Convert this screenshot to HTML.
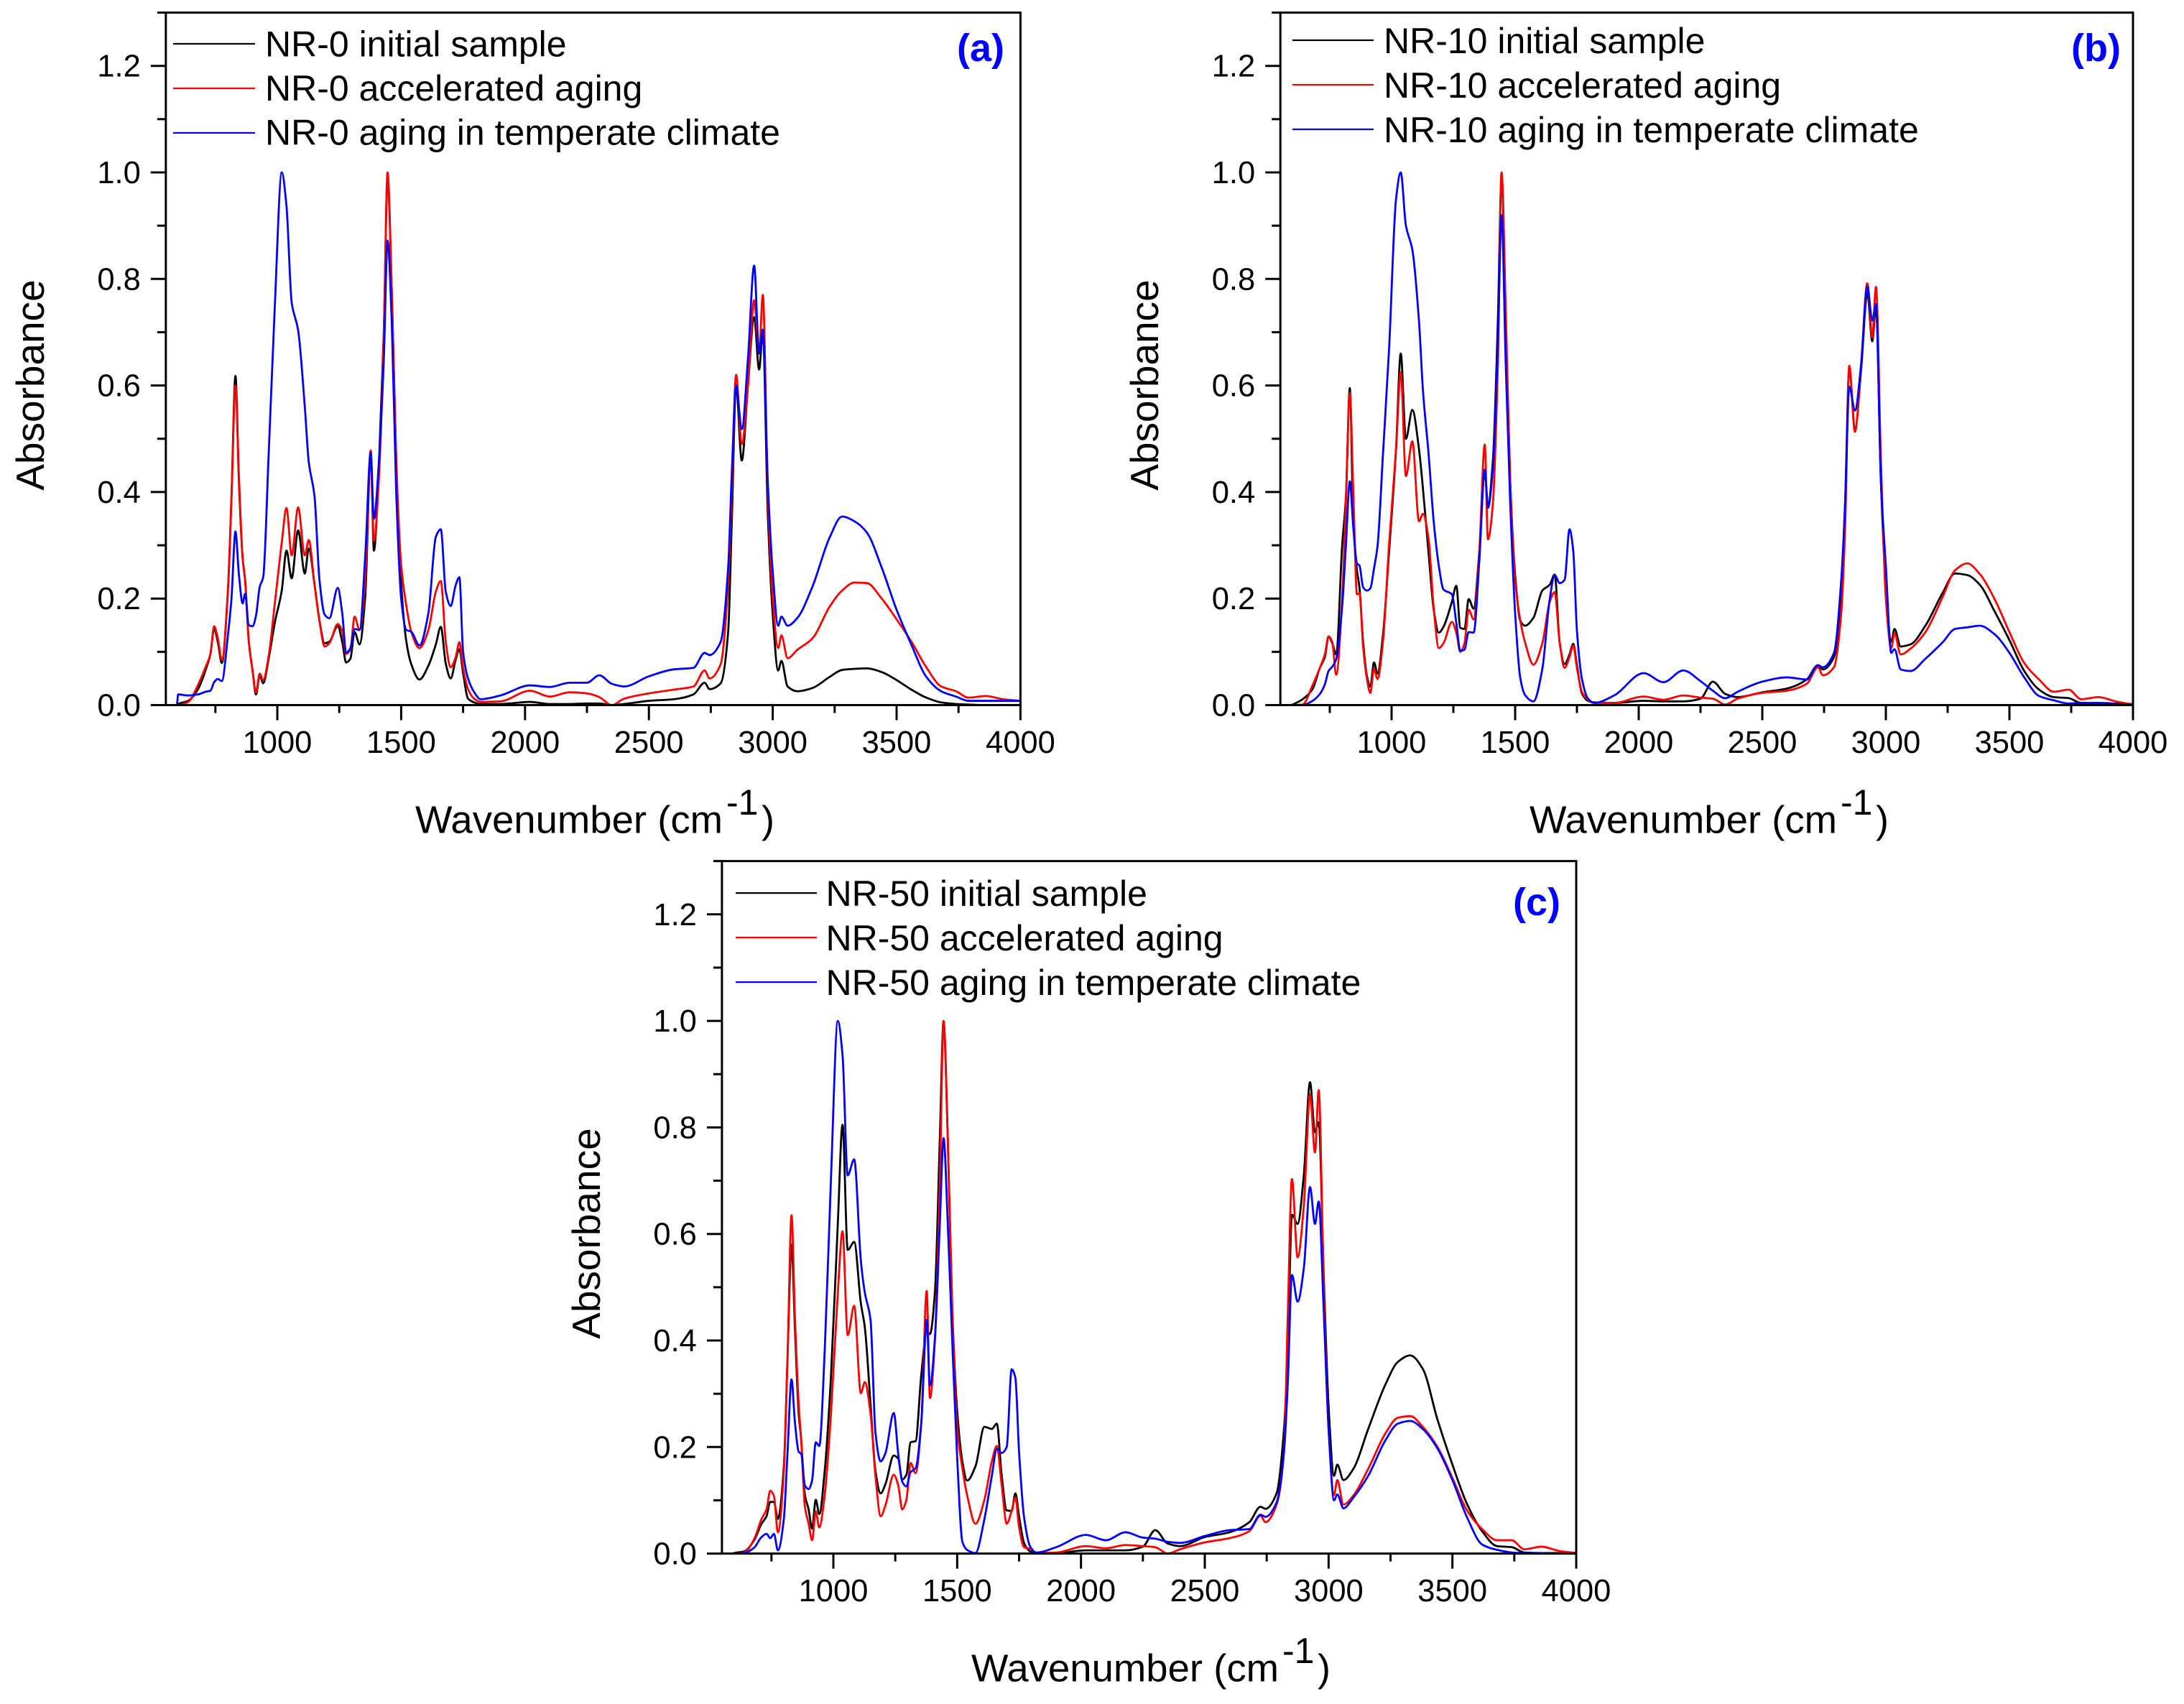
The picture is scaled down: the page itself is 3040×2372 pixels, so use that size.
<!DOCTYPE html>
<html lang="en">
<head>
<meta charset="utf-8">
<title>FTIR absorbance spectra of NR samples</title>
<style>
html,body{margin:0;padding:0;background:#fff;}
svg{display:block;}
text{font-family:"Liberation Sans",Arial,sans-serif;fill:#000;}
.leg{font-size:50px;}
.tit{font-size:54px;}
.ytit{font-size:55px;}
.sup{font-size:50px;}
.plabel{font-size:54px;font-weight:bold;fill:#0000ff;}
</style>
</head>
<body>
<svg id="chart" xmlns="http://www.w3.org/2000/svg" width="3040" height="2372" viewBox="0 0 3040 2372">
<rect width="3040" height="2372" fill="#fff"/>

<g id="panel-a">
  <text class="ytit" transform="translate(61,536) rotate(-90)" text-anchor="middle">Absorbance</text>
  <text class="tit" x="578" y="1159.5" textLength="428" lengthAdjust="spacingAndGlyphs">Wavenumber (cm</text>
  <text class="sup" x="1011" y="1134">-1</text>
  <text class="tit" x="1060" y="1159.5">)</text>
  <line x1="241" x2="355" y1="61" y2="61" stroke="#000" stroke-width="2.2"/>
  <line x1="241" x2="355" y1="123" y2="123" stroke="#f00" stroke-width="2.2"/>
  <line x1="241" x2="355" y1="185" y2="185" stroke="#00f" stroke-width="2.2"/>
  <text class="leg" x="369" y="78.5">NR-0 initial sample</text>
  <text class="leg" x="369" y="140">NR-0 accelerated aging</text>
  <text class="leg" x="369" y="201.7">NR-0 aging in temperate climate</text>
  <text class="plabel" x="1332" y="85">(a)</text>
</g>

<g id="panel-b" transform="translate(1551,0)">
  <text class="ytit" transform="translate(61,536) rotate(-90)" text-anchor="middle">Absorbance</text>
  <text class="tit" x="578" y="1159.5" textLength="428" lengthAdjust="spacingAndGlyphs">Wavenumber (cm</text>
  <text class="sup" x="1011" y="1134">-1</text>
  <text class="tit" x="1060" y="1159.5">)</text>
  <line x1="248" x2="361" y1="56" y2="56" stroke="#000" stroke-width="2.2"/>
  <line x1="248" x2="361" y1="118" y2="118" stroke="#f00" stroke-width="2.2"/>
  <line x1="248" x2="361" y1="180" y2="180" stroke="#00f" stroke-width="2.2"/>
  <text class="leg" x="375" y="74">NR-10 initial sample</text>
  <text class="leg" x="375" y="136">NR-10 accelerated aging</text>
  <text class="leg" x="375" y="198">NR-10 aging in temperate climate</text>
  <text class="plabel" x="1332" y="85">(b)</text>
</g>

<g id="panel-c" transform="translate(774,1181.1)">
  <text class="ytit" transform="translate(61,536) rotate(-90)" text-anchor="middle">Absorbance</text>
  <text class="tit" x="578" y="1159.5" textLength="428" lengthAdjust="spacingAndGlyphs">Wavenumber (cm</text>
  <text class="sup" x="1011" y="1134">-1</text>
  <text class="tit" x="1060" y="1159.5">)</text>
  <line x1="250" x2="363" y1="62" y2="62" stroke="#000" stroke-width="2.2"/>
  <line x1="250" x2="363" y1="124" y2="124" stroke="#f00" stroke-width="2.2"/>
  <line x1="250" x2="363" y1="186" y2="186" stroke="#00f" stroke-width="2.2"/>
  <text class="leg" x="375.5" y="80">NR-50 initial sample</text>
  <text class="leg" x="375.5" y="142">NR-50 accelerated aging</text>
  <text class="leg" x="375.5" y="204">NR-50 aging in temperate climate</text>
  <text class="plabel" x="1332" y="93">(c)</text>
</g>
</svg>

<script>
const wavenumbers = [
595,600,640,680,710,730,745,760,776,800,
815,831,845,860,870,885,900,914,929,943,
965,990,1018,1037,1058,1084,1111,1127,1150,1170,
1191,1210,1244,1262,1278,1295,1312,1332,1355,1377,
1390,1410,1430,1445,1462,1480,1500,1521,1540,1574,
1610,1640,1660,1680,1700,1720,1735,1750,1770,1795,
1820,1900,2020,2100,2180,2250,2300,2350,2400,2500,
2600,2680,2725,2745,2790,2820,2835,2852,2875,2900,
2925,2945,2960,2980,3000,3022,3035,3060,3100,3160,
3230,3280,3330,3380,3440,3500,3560,3620,3680,3740,
3790,3860,3930,4000];

const nr0Initial = [
0,.002,.008,.03,.065,.096,.143,.118,.079,.21,
.39,.618,.42,.276,.235,.119,.065,.02,.056,.041,
.087,.155,.215,.29,.238,.328,.247,.294,.227,.159,
.116,.119,.148,.119,.08,.087,.137,.114,.204,.474,
.29,.447,.7,.99,.78,.46,.227,.119,.078,.048,
.074,.114,.147,.078,.05,.085,.105,.06,.012,.005,
.002,.002,.006,.002,.002,.003,.003,0,.002,.008,
.011,.02,.042,.03,.041,.137,.35,.6,.459,.6,
.728,.63,.7,.36,.17,.065,.083,.035,.026,.032,
.053,.066,.068,.069,.062,.047,.029,.014,.005,.002,
.001,0,0,0];
const nr0Accelerated = [
0,0,.006,.038,.071,.096,.148,.125,.085,.209,
.39,.6,.43,.276,.233,.119,.065,.024,.059,.047,
.092,.191,.305,.37,.281,.371,.281,.31,.227,.159,
.11,.116,.152,.139,.096,.105,.166,.141,.236,.478,
.308,.424,.7,1,.78,.46,.263,.186,.139,.107,
.141,.213,.233,.119,.071,.09,.118,.07,.03,.012,
.006,.007,.027,.016,.024,.022,.015,0,.012,.022,
.029,.035,.065,.05,.077,.228,.408,.62,.49,.6,
.76,.66,.77,.4,.2,.107,.131,.088,.104,.125,
.185,.215,.23,.229,.2,.161,.119,.071,.035,.026,
.014,.017,.011,.008];
const nr0Temperate = [
0,.02,.018,.02,.025,.027,.043,.049,.045,.128,
.2,.326,.245,.191,.209,.15,.148,.168,.222,.24,
.47,.75,1,.937,.756,.704,.56,.456,.393,.236,
.17,.163,.22,.173,.098,.107,.143,.141,.28,.474,
.35,.456,.65,.872,.72,.4,.2,.141,.138,.112,
.173,.316,.33,.213,.186,.225,.24,.1,.05,.024,
.011,.018,.037,.034,.042,.042,.056,.04,.035,.054,
.067,.07,.098,.094,.119,.258,.438,.6,.518,.65,
.825,.66,.705,.42,.25,.149,.166,.149,.164,.222,
.315,.354,.345,.324,.258,.179,.113,.053,.026,.016,
.008,.008,.008,.008];

const nr10Initial = [
0,.001,.011,.03,.07,.09,.129,.116,.095,.3,
.388,.595,.347,.253,.221,.118,.055,.035,.08,.059,
.131,.289,.48,.66,.5,.554,.48,.406,.284,.181,
.136,.147,.194,.224,.145,.143,.199,.181,.289,.44,
.375,.46,.72,.99,.72,.42,.244,.158,.149,.164,
.215,.226,.245,.118,.077,.095,.115,.075,.022,.008,
.005,.004,.008,.007,.007,.012,.044,.021,.015,.024,
.031,.048,.075,.067,.09,.222,.377,.633,.517,.63,
.774,.683,.749,.42,.222,.119,.143,.11,.114,.149,
.211,.247,.244,.226,.176,.122,.064,.029,.015,.013,
.004,.004,.003,.002];
const nr10Accelerated = [
0,0,.001,.037,.07,.095,.129,.118,.057,.199,
.379,.586,.4,.208,.21,.109,.05,.023,.068,.049,
.118,.302,.48,.625,.43,.495,.345,.359,.311,.185,
.107,.116,.156,.136,.1,.116,.179,.161,.289,.489,
.311,.379,.64,1,.74,.42,.235,.158,.118,.076,
.116,.194,.212,.118,.07,.09,.112,.07,.025,.01,
.004,.004,.016,.01,.018,.014,.012,.001,.012,.023,
.027,.04,.071,.056,.071,.176,.331,.637,.513,.64,
.792,.69,.785,.46,.2,.107,.135,.095,.106,.137,
.203,.253,.266,.246,.199,.137,.079,.048,.025,.029,
.011,.015,.007,.001];
const nr10Temperate = [
0,0,0,.008,.021,.039,.064,.072,.086,.185,
.298,.42,.334,.266,.262,.221,.215,.219,.257,.298,
.47,.67,.95,1,.9,.855,.72,.59,.47,.347,
.262,.217,.208,.154,.102,.104,.137,.136,.271,.442,
.37,.446,.68,.92,.64,.38,.172,.05,.019,.007,
.068,.199,.244,.229,.235,.33,.29,.14,.05,.012,
.004,.018,.06,.043,.065,.045,.027,.013,.025,.044,
.052,.048,.075,.071,.098,.238,.377,.598,.553,.64,
.786,.722,.753,.42,.26,.098,.105,.067,.064,.087,
.118,.143,.146,.149,.133,.098,.052,.017,.009,.003,
.004,.003,.002,.001];

const nr50Initial = [
0,.001,.004,.025,.056,.07,.097,.097,.065,.164,
.37,.58,.42,.263,.214,.11,.083,.047,.101,.074,
.155,.33,.62,.805,.57,.585,.47,.425,.281,.155,
.113,.13,.184,.178,.139,.148,.209,.211,.335,.416,
.412,.49,.78,1,.78,.46,.268,.173,.137,.164,
.238,.234,.244,.146,.081,.08,.113,.07,.02,.004,
.001,.001,.006,.006,.006,.013,.044,.019,.014,.031,
.04,.059,.088,.084,.113,.234,.377,.636,.619,.711,
.885,.791,.81,.527,.276,.146,.167,.138,.159,.234,
.318,.36,.372,.347,.251,.167,.092,.042,.014,.012,
.002,.001,.001,0];
const nr50Accelerated = [
0,0,.002,.027,.065,.083,.118,.108,.04,.155,
.37,.635,.44,.28,.213,.088,.056,.025,.079,.049,
.11,.26,.49,.605,.41,.465,.301,.322,.263,.146,
.07,.09,.148,.128,.083,.101,.17,.151,.245,.493,
.292,.4,.7,1,.78,.46,.236,.16,.11,.056,
.101,.173,.202,.128,.056,.08,.105,.05,.012,.009,
.001,.002,.014,.01,.016,.014,.012,0,.008,.021,
.029,.042,.071,.059,.092,.192,.444,.703,.556,.653,
.862,.753,.87,.51,.234,.11,.138,.092,.109,.159,
.226,.255,.258,.238,.2,.142,.08,.046,.025,.025,
.008,.013,.005,.001];
const nr50Temperate = [
0,0,.001,.011,.031,.037,.029,.037,.006,.065,
.191,.327,.245,.191,.187,.128,.121,.137,.209,.202,
.38,.7,1,.936,.71,.74,.55,.49,.439,.227,
.173,.188,.264,.187,.135,.126,.153,.16,.245,.439,
.315,.403,.62,.78,.62,.4,.18,.022,.007,.001,
.065,.146,.196,.189,.2,.346,.33,.19,.069,.013,
.002,.012,.035,.025,.04,.03,.028,.022,.02,.033,
.044,.046,.073,.069,.096,.192,.318,.523,.473,.536,
.688,.619,.661,.46,.234,.1,.111,.085,.105,.146,
.213,.244,.249,.234,.197,.138,.067,.017,.007,.002,
.001,.001,0,0];

const xMajorTicks = [1000,1500,2000,2500,3000,3500,4000];
const xMinorTicks = [750,1250,1750,2250,2750,3250,3750];
const yMajorTicks = [0,0.2,0.4,0.6,0.8,1.0,1.2];
const yMinorTicks = [0.1,0.3,0.5,0.7,0.9,1.1,1.3];
const xTickLabels = ['1000','1500','2000','2500','3000','3500','4000'];
const yTickLabels = ['0.0','0.2','0.4','0.6','0.8','1.0','1.2'];

const panels = [
  {id:'a', x1000:386,  x4000:1420.4, y0:981.5,  y1:240,    initial:nr0Initial,  accelerated:nr0Accelerated,  temperate:nr0Temperate},
  {id:'b', x1000:1937, x4000:2969,   y0:981.5,  y1:240,    initial:nr10Initial, accelerated:nr10Accelerated, temperate:nr10Temperate},
  {id:'c', x1000:1160, x4000:2194,   y0:2162.6, y1:1421.1, initial:nr50Initial, accelerated:nr50Accelerated, temperate:nr50Temperate}
];

const NS = 'http://www.w3.org/2000/svg';
const svgRoot = document.getElementById('chart');

function make(tag, attrs) {
  const el = document.createElementNS(NS, tag);
  for (const k in attrs) el.setAttribute(k, attrs[k]);
  return el;
}

/* Monotone cubic path through the data points, so peaks do not overshoot. */
function smoothPath(px, py) {
  const n = px.length, d = [], m = [];
  for (let i = 0; i < n - 1; i++) d.push((py[i + 1] - py[i]) / (px[i + 1] - px[i]));
  m.push(d[0]);
  for (let i = 1; i < n - 1; i++) {
    if (d[i - 1] * d[i] <= 0) { m.push(0); continue; }
    const h0 = px[i] - px[i - 1], h1 = px[i + 1] - px[i];
    m.push(3 * (h0 + h1) / ((2 * h1 + h0) / d[i - 1] + (h1 + 2 * h0) / d[i]));
  }
  m.push(d[n - 2]);
  let s = 'M' + px[0].toFixed(2) + ' ' + py[0].toFixed(2);
  for (let i = 0; i < n - 1; i++) {
    const h = (px[i + 1] - px[i]) / 3;
    s += 'C' + (px[i] + h).toFixed(2) + ' ' + (py[i] + m[i] * h).toFixed(2) + ' ' +
         (px[i + 1] - h).toFixed(2) + ' ' + (py[i + 1] - m[i + 1] * h).toFixed(2) + ' ' +
         px[i + 1].toFixed(2) + ' ' + py[i + 1].toFixed(2);
  }
  return s;
}

function drawSeries(parent, xs, values, xScale, yScale, color, name) {
  const path = make('path', {
    d: smoothPath(xs.map(xScale), values.map(yScale)),
    fill: 'none', stroke: color, 'stroke-width': 2.8, 'stroke-linejoin': 'round'
  });
  
  
  parent.appendChild(path);
}

function drawPanel(p) {
  const xScale = v => p.x1000 + (v - 1000) * (p.x4000 - p.x1000) / 3000;
  const yScale = a => p.y0 + (p.y1 - p.y0) * a;
  const g = make('g', {});
  
  
  svgRoot.appendChild(g);

  drawSeries(g, wavenumbers, p.initial, xScale, yScale, '#000000', 'series-initial-' + p.id);
  drawSeries(g, wavenumbers, p.accelerated, xScale, yScale, '#ff0000', 'series-accelerated-' + p.id);
  drawSeries(g, wavenumbers, p.temperate, xScale, yScale, '#0000ff', 'series-temperate-' + p.id);

  const left = xScale(550), right = xScale(4000), top = yScale(1.3), bottom = yScale(0);
  const frame = make('rect', {
    x: left, y: top, width: right - left, height: bottom - top,
    fill: 'none', stroke: '#000', 'stroke-width': 3
  });
  
  
  g.appendChild(frame);

  xMajorTicks.forEach((v, i) => {
    const t = make('line', {x1: xScale(v), x2: xScale(v), y1: bottom, y2: bottom + 21, stroke: '#000', 'stroke-width': 3});
    
    
    g.appendChild(t);
    const l = make('text', {x: xScale(v), y: bottom + 66.5, 'text-anchor': 'middle', 'font-size': 43.5});
    
    
    l.textContent = xTickLabels[i];
    g.appendChild(l);
  });
  xMinorTicks.forEach(v => {
    const t = make('line', {x1: xScale(v), x2: xScale(v), y1: bottom, y2: bottom + 11, stroke: '#000', 'stroke-width': 3});
    
    
    g.appendChild(t);
  });
  yMajorTicks.forEach((a, i) => {
    const t = make('line', {x1: left - 21, x2: left, y1: yScale(a), y2: yScale(a), stroke: '#000', 'stroke-width': 3});
    
    
    g.appendChild(t);
    const l = make('text', {x: left - 35, y: yScale(a) + 15, 'text-anchor': 'end', 'font-size': 43.5});
    
    
    l.textContent = yTickLabels[i];
    g.appendChild(l);
  });
  yMinorTicks.forEach(a => {
    const t = make('line', {x1: left - 12, x2: left, y1: yScale(a), y2: yScale(a), stroke: '#000', 'stroke-width': 3});
    
    
    g.appendChild(t);
  });
}

panels.forEach(drawPanel);
</script>
</body>
</html>
